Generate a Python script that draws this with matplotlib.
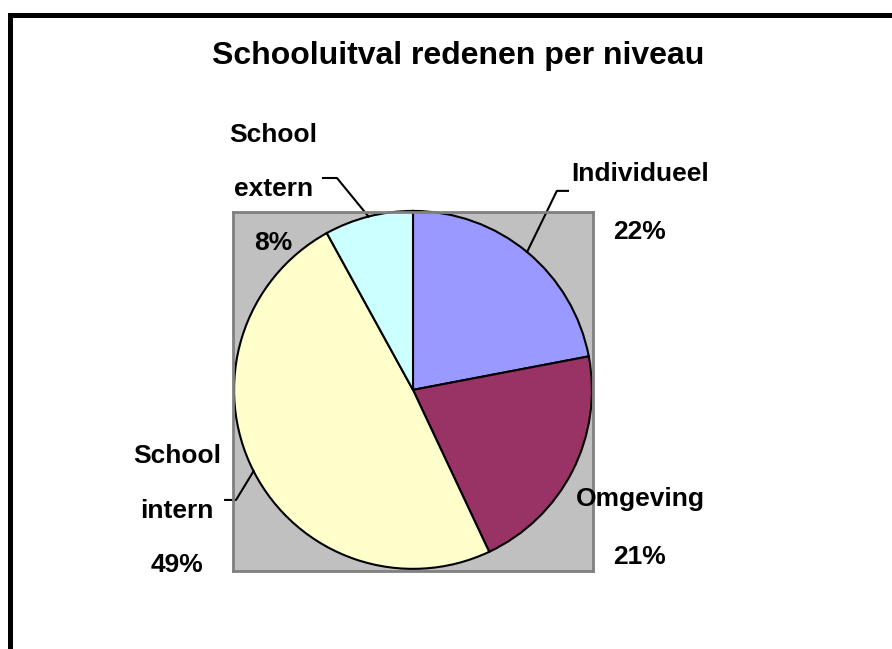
import matplotlib

matplotlib.use("Agg")
import matplotlib.pyplot as plt  # noqa: E402
import numpy as np  # noqa: E402
from matplotlib.lines import Line2D  # noqa: E402

plt.rcParams["font.family"] = ["Liberation Sans", "DejaVu Sans"]

TITLE = "Schooluitval redenen per niveau"
labels = ["Individueel", "Omgeving", "School\nintern", "School\nextern"]
values = [22, 21, 49, 8]
colors = ["#9999FF", "#993366", "#FFFFCC", "#CCFFFF"]

# label block centres (data units, radius = 1) and leader elbows
label_pos = [(1.268, 1.045), (1.268, -0.771), (-1.318, -0.676), (-0.782, 1.123)]
elbows = [((0.804, 1.112), (0.866, 1.112)), None,
          ((-0.989, -0.615), (-1.050, -0.615)),
          ((-0.425, 1.184), (-0.503, 1.184))]

W, H = 892, 649
fig = plt.figure(figsize=(W / 100, H / 100), dpi=100)
fig.patch.set_facecolor("white")

# gray plot area
ax = fig.add_axes([233 / W, (H - 571) / H, 360 / W, 359 / H])
wedges, _ = ax.pie(values, colors=colors, startangle=90, counterclock=False,
                   radius=1, frame=True,
                   wedgeprops=dict(edgecolor="black", linewidth=1.5))
ax.set_aspect("auto")
ax.set_xlim(-1.006, 1.006)
ax.set_ylim(-1.012, 0.994)
ax.set_xticks([]); ax.set_yticks([])
ax.set_facecolor("#C0C0C0")
for s in ax.spines.values():
    s.set_color("#808080"); s.set_linewidth(2)

total = sum(values)
for w, lbl, v, pos, el in zip(wedges, labels, values, label_pos, elbows):
    mid = np.deg2rad((w.theta1 + w.theta2) / 2)
    two_line = "\n" in lbl
    txt = f"{lbl}\n{v / total:.0%}" if two_line else f"{lbl}\n\n{v / total:.0%}"
    ax.text(pos[0], pos[1], txt, ha="center", va="center", fontsize=19,
            fontweight="bold", linespacing=2.6 if two_line else 1.25,
            clip_on=False)
    if el:
        edge = (np.cos(mid), np.sin(mid))
        ax.plot([edge[0], el[0][0], el[1][0]], [edge[1], el[0][1], el[1][1]],
                color="black", lw=1.5, clip_on=False)

fig.text(458.5 / W, 1 - 56 / H, TITLE, ha="center", va="center",
         fontsize=23, fontweight="bold")

# chart border (only left and top visible)
fig.add_artist(Line2D([9.5 / W, 9.5 / W, 1.0], [0.0, 1 - 14.5 / H, 1 - 14.5 / H],
                      transform=fig.transFigure, color="black", lw=3.6,
                      solid_joinstyle="miter"))

fig.savefig("out.png", dpi=100)
